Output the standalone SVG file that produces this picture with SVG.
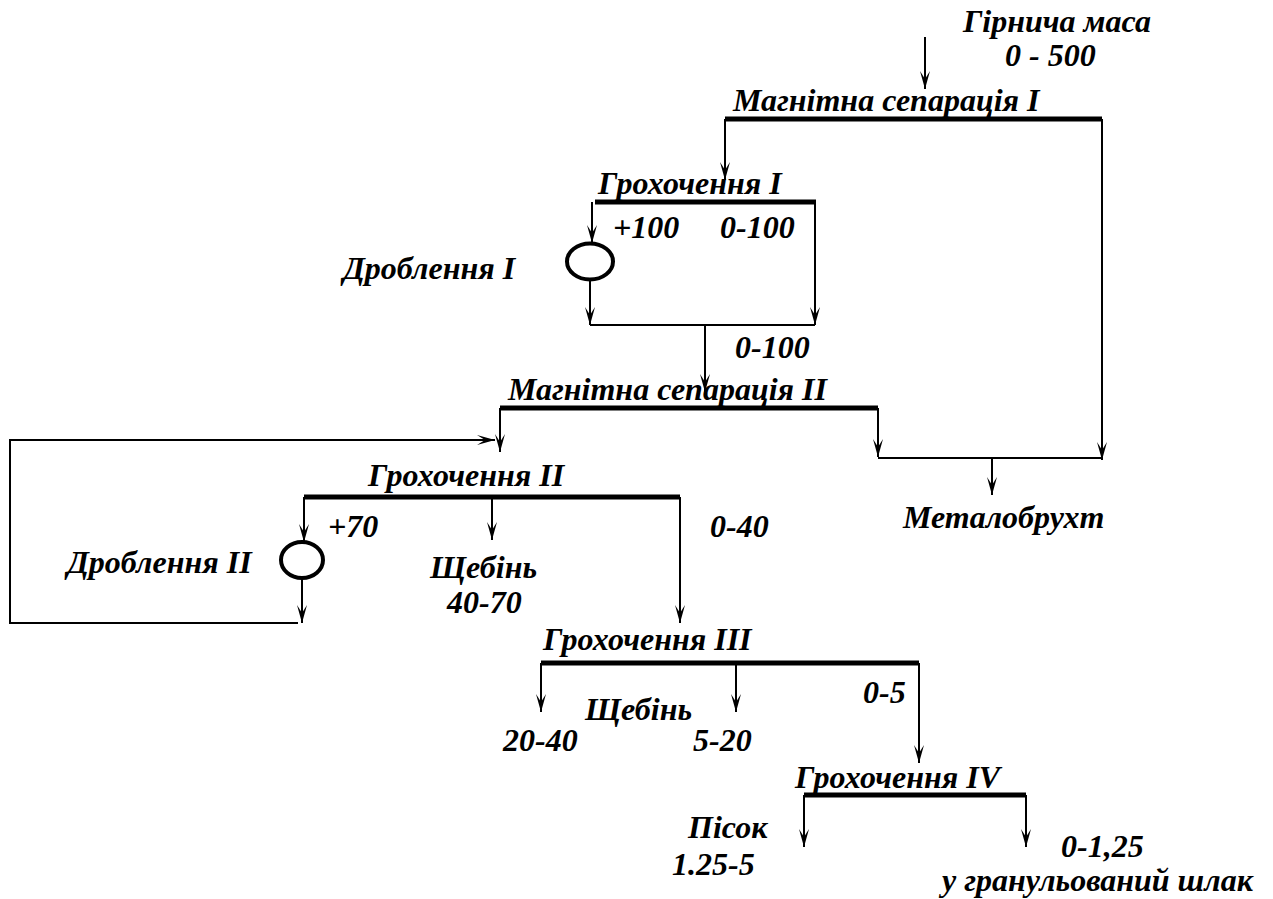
<svg xmlns="http://www.w3.org/2000/svg" width="1273" height="899" viewBox="0 0 1273 899">
<style>
text{font-family:"Liberation Serif","Times New Roman",serif;font-weight:bold;font-style:italic;font-size:32px;fill:#000}
.bar{stroke:#000;stroke-width:5;fill:none}
.ln{stroke:#000;stroke-width:2;fill:none}
.ar{stroke:#000;stroke-width:2;fill:none;marker-end:url(#ah)}
.crusher{stroke:#000;stroke-width:4;fill:#fff}
</style>
<defs>
<marker id="ah" viewBox="-19 -6 20 12" refX="0" refY="0" markerWidth="20" markerHeight="12" orient="auto" markerUnits="userSpaceOnUse">
<path d="M0,0 L-18,-5 L-10,0 L-18,5 Z" fill="#000"/>
</marker>
</defs>
<rect width="1273" height="899" fill="#fff"/>
<g id="connectors">
<path class="ar" d="M925,37 V89"/>
<path class="ar" d="M725,119 V180"/>
<path class="ar" d="M1102,119 V460"/>
<path class="ar" d="M592,202 V243"/>
<path class="ar" d="M590,280 V325"/>
<path class="ar" d="M815,202 V325"/>
<path class="ln" d="M590,325 H815"/>
<path class="ar" d="M705,325 V392"/>
<path class="ar" d="M500,408 V452"/>
<path class="ar" d="M878,408 V457"/>
<path class="ln" d="M878,458 H1102"/>
<path class="ar" d="M992,458 V495"/>
<path class="ar" d="M304,497 V542"/>
<path class="ar" d="M302,578 V623"/>
<path class="ar" d="M298,623 H10 V440 H495"/>
<path class="ar" d="M492,497 V540"/>
<path class="ar" d="M680,497 V623"/>
<path class="ar" d="M541,663 V712"/>
<path class="ar" d="M736,663 V712"/>
<path class="ar" d="M919,663 V763"/>
<path class="ar" d="M804,795 V847"/>
<path class="ar" d="M1026,795 V847"/>
</g>
<g id="input">
<text x="963" y="32">Гірнича маса</text>
<text x="1005" y="66">0 - 500</text>
</g>
<g id="mag-sep-1">
<path class="bar" d="M725,119 H1102"/>
<text x="733" y="111">Магнітна сепарація I</text>
</g>
<g id="screen-1">
<path class="bar" d="M595,202 H816"/>
<text x="598" y="194">Грохочення I</text>
<text x="613" y="238">+100</text>
<text x="720" y="238">0-100</text>
</g>
<g id="crusher-1">
<ellipse class="crusher" cx="590" cy="261.5" rx="23" ry="18"/>
<text x="343" y="279">Дроблення I</text>
</g>
<g id="product-1">
<text x="735" y="358">0-100</text>
</g>
<g id="mag-sep-2">
<path class="bar" d="M500,408 H878"/>
<text x="508" y="400">Магнітна сепарація II</text>
</g>
<g id="scrap">
<text x="903" y="528">Металобрухт</text>
</g>
<g id="screen-2">
<path class="bar" d="M304,497 H680"/>
<text x="368" y="486">Грохочення II</text>
<text x="328" y="537">+70</text>
<text x="710" y="537">0-40</text>
</g>
<g id="crusher-2">
<ellipse class="crusher" cx="302" cy="560" rx="21" ry="18"/>
<text x="67" y="573">Дроблення II</text>
</g>
<g id="gravel-40-70">
<text x="430" y="578">Щебінь</text>
<text x="447" y="613">40-70</text>
</g>
<g id="screen-3">
<path class="bar" d="M541,663 H919"/>
<text x="543" y="650">Грохочення III</text>
<text x="863" y="703">0-5</text>
</g>
<g id="gravel-fine">
<text x="585" y="720">Щебінь</text>
<text x="503" y="751">20-40</text>
<text x="693" y="751">5-20</text>
</g>
<g id="screen-4">
<path class="bar" d="M804,795 H1026"/>
<text x="795" y="788">Грохочення IV</text>
</g>
<g id="sand">
<text x="688" y="838">Пісок</text>
<text x="672" y="875">1.25-5</text>
</g>
<g id="slag">
<text x="1061" y="857">0-1,25</text>
<text x="942" y="891">у гранульований шлак</text>
</g>
</svg>
